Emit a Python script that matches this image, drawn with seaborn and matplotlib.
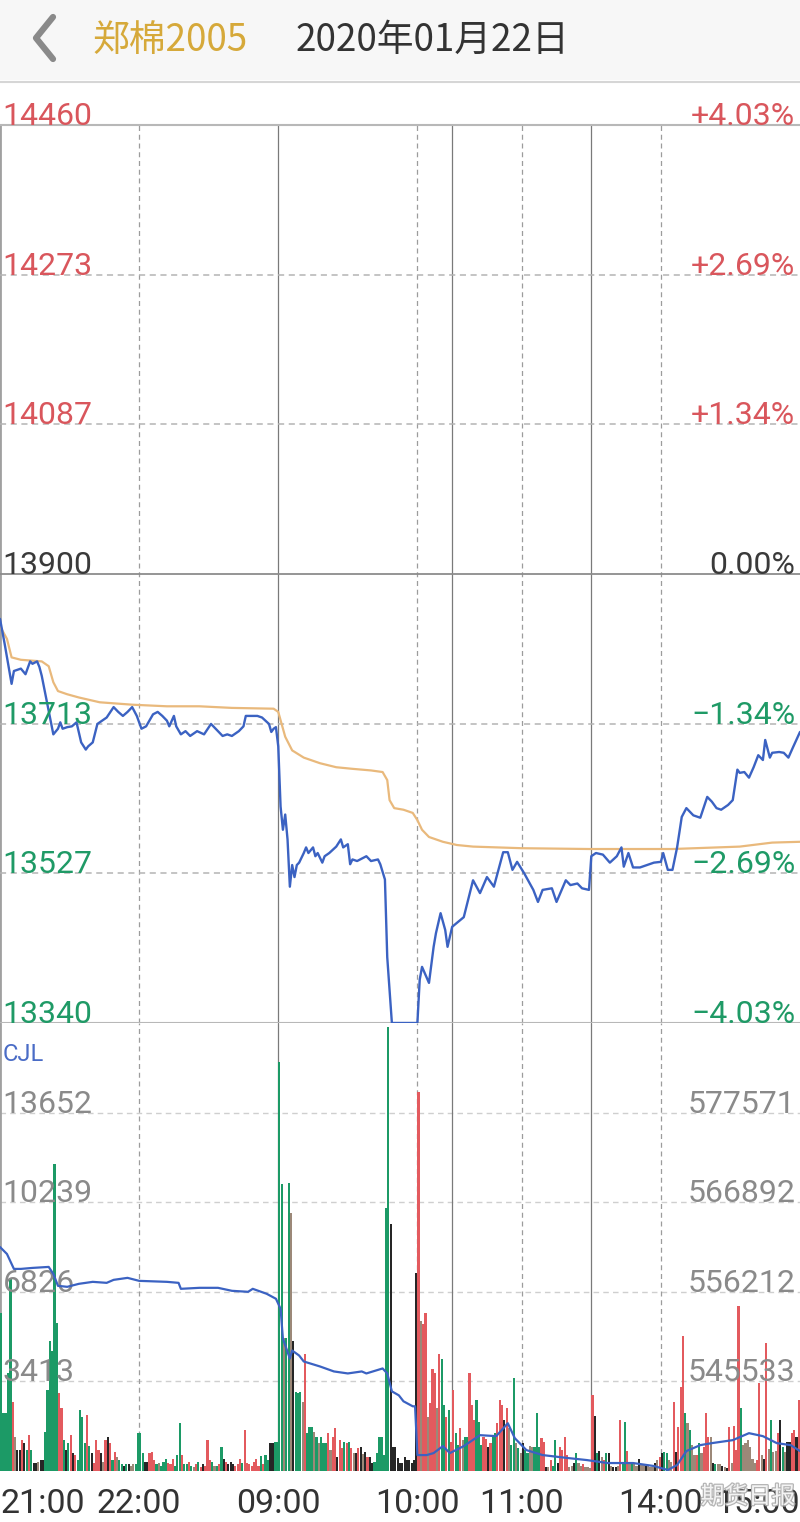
import numpy as np
import pandas as pd
import seaborn as sns
import matplotlib.pyplot as plt
from matplotlib.lines import Line2D
from matplotlib.patches import Rectangle
import matplotlib.patheffects as pe

# ---- data (minutes since 21:00, trading minutes only: 120 night + 75 + 60 + 90) ----
title_name = '郑棉2005'
title_date = '2020年01月22日'
time_ticks = [0, 60, 120, 180, 225, 285, 345]
time_labels = ['21:00', '22:00', '09:00', '10:00', '11:00', '14:00', '15:00']

price_levels = [14460, 14273, 14087, 13900, 13713, 13527, 13340]
pct_labels = ['+4.03%', '+2.69%', '+1.34%', '0.00%', '\u22121.34%', '\u22122.69%', '\u22124.03%']
vol_levels = [13652, 10239, 6826, 3413]
oi_levels = [577571, 566892, 556212, 545533]

price_min = [0, 2, 5, 6, 9, 11, 13, 14, 16, 17, 18, 20, 22, 23, 25, 26, 27, 29, 31, 33,
             35, 37, 38, 40, 42, 43, 46, 49, 51, 53, 55, 57, 59, 61, 63, 66, 68, 70, 72, 73,
             75, 76, 78, 80, 82, 85, 88, 91, 93, 96, 98, 100, 103, 105, 106, 108, 111, 113, 116, 117,
             118, 119,
             120, 121, 122, 123, 124, 125, 126, 127, 128, 129, 131, 132, 133, 135, 136, 137, 139, 140, 142, 145,
             147, 148, 150, 151, 152, 154, 158, 160, 163, 164, 166, 167, 169, 180, 181, 182, 185, 187, 188, 190,
             192, 193, 195, 200, 204, 207, 210, 213, 217, 219, 221, 223, 226, 230, 232, 234, 238, 240, 244, 246,
             249, 251, 254, 255, 257, 260, 263, 266, 268, 269, 271, 273, 276, 279, 282, 285, 286, 288, 290, 292,
             294, 296, 299, 302, 305, 307, 309, 311, 314, 316, 318, 319, 321, 323, 325, 327, 329, 330, 332, 333,
             336, 338, 340, 342, 345]
price_val = [13844, 13813, 13763, 13779, 13782, 13775, 13791, 13788, 13791, 13784, 13773, 13744, 13715, 13700, 13707, 13715, 13707, 13709, 13710, 13715,
             13690, 13681, 13685, 13690, 13713, 13715, 13721, 13734, 13728, 13723, 13728, 13734, 13723, 13707, 13710, 13725, 13728, 13723, 13717, 13710,
             13723, 13710, 13700, 13704, 13698, 13704, 13700, 13713, 13707, 13698, 13700, 13698, 13704, 13710, 13723, 13723, 13723, 13721, 13713, 13703,
             13707, 13709,
             13685, 13610, 13581, 13600, 13569, 13510, 13537, 13522, 13537, 13540, 13552, 13559, 13552, 13559, 13548, 13552, 13540, 13548, 13552, 13560,
             13569, 13559, 13563, 13538, 13544, 13542, 13548, 13542, 13544, 13538, 13519, 13422, 13340, 13340, 13394, 13410, 13390, 13435, 13452, 13477,
             13456, 13435, 13460, 13472, 13518, 13502, 13522, 13510, 13553, 13553, 13531, 13541, 13527, 13506, 13491, 13506, 13508, 13491, 13518, 13512,
             13514, 13508, 13506, 13548, 13552, 13550, 13540, 13548, 13559, 13535, 13552, 13534, 13534, 13537, 13540, 13541, 13552, 13531, 13531, 13559,
             13597, 13608, 13599, 13596, 13622, 13616, 13608, 13606, 13612, 13618, 13656, 13652, 13653, 13646, 13659, 13674, 13668, 13693, 13671, 13677,
             13678, 13677, 13671, 13684, 13703]

avg_min = [0, 3, 5, 9, 18, 21, 23, 25, 29, 34, 43, 57, 72, 86, 100, 118, 120, 123, 126, 131,
           138, 145, 152, 160, 165, 167, 168, 170, 174, 178, 180, 182, 185, 191, 197, 204, 225, 254, 290, 319,
           333, 345]
avg_val = [13835, 13819, 13796, 13793, 13791, 13785, 13765, 13754, 13750, 13746, 13740, 13737, 13735, 13735, 13733, 13732, 13728, 13697, 13680, 13671,
           13664, 13659, 13657, 13655, 13653, 13643, 13618, 13608, 13606, 13602, 13593, 13581, 13572, 13566, 13562, 13560, 13558, 13557, 13557, 13560,
           13565, 13566]

oi_min = [0, 3, 6, 9, 14, 21, 23, 25, 29, 34, 40, 46, 49, 55, 60, 72, 77, 78, 86, 94, 100, 107, 109, 115, 119,
          121, 122, 125, 126, 129, 131, 138, 144, 150, 156, 158, 165, 167, 169, 172, 174, 178, 179,
          180, 184, 187, 191, 194, 200, 207, 214, 219, 222, 227, 234, 245, 253,
          262, 273, 282, 288, 292, 296, 302, 307, 316, 323, 329, 335, 341, 345]
oi_val = [561552, 560721, 558942, 558942, 559060, 559179, 558348, 556924, 556806, 557162, 557399, 557280, 557636, 557874, 557518, 557399, 557280, 556568, 556687, 556687, 556331, 556212, 556568, 555975, 555382,
          554195, 550635, 548262, 549211, 548618, 547906, 547313, 546720, 546482, 546720, 546482, 547076, 546482, 544346, 543872, 543160, 542566, 542566,
          536752, 536752, 536989, 537820, 536989, 537820, 539125, 539007, 540549, 538769, 537345, 536752, 536396, 536159,
          535803, 535803, 535447, 534972, 535566, 537227, 537939, 538176, 538532, 539363, 539007, 538176, 537939, 537227]

# volume per minute, colour code: g down, r up, k flat, n mixed
vol_night = [6030, 2200, 2200, 3750, 7360, 2620, 1290, 800, 800, 1180,
             1060, 800, 1365, 800, 300, 300, 340, 420, 420, 1480,
             3070, 4970, 4590, 11680, 5650, 2960, 2390, 1180, 800, 1060,
             1365, 680, 600, 420, 2310, 2050, 1060, 2120, 950, 680,
             300, 1180, 800, 680, 350, 1180, 1290, 1060, 400, 720,
             530, 420, 250, 200, 250, 250, 200, 250, 250, 1440,
             1440, 700, 340, 340, 680, 720, 420, 250, 300, 200,
             340, 450, 300, 250, 450, 200, 600, 1820, 600, 250,
             250, 360, 200, 150, 250, 340, 150, 250, 200, 1180,
             400, 340, 200, 200, 250, 910, 450, 340, 250, 340,
             250, 200, 250, 450, 300, 1550, 300, 250, 200, 340,
             450, 200, 560, 250, 600, 400, 1060, 1060, 1100, 1100]
col_night = ('gggggrnkkr' 'kgrgkknkkg' 'gggggrrgkg' 'rkrggggrgk' 'rrrknrkrgr' 'nggkgknngg'
             'ggkkrrrgng' 'ggrrrgggrg' 'grgnrgrkrr' 'rgngrgkrkk' 'krrrgrrrrr' 'rrgrggkkgg')
vol_am1 = [15590, 10920, 5080, 5080, 10960, 9820, 4970, 3000, 2960, 3000,
           2620, 4470, 1440, 1670, 1670, 1480, 1290, 1060, 1290, 1060,
           1060, 1440, 800, 1290, 1630, 530, 1180, 870, 1100, 1060,
           1100, 870, 680, 680, 870, 910, 640, 720, 530, 530,
           300, 360, 680, 1290, 1290, 600, 10010, 16900, 9400, 920,
           920, 490, 300, 300, 530, 420, 420, 300, 400, 7550,
           14450, 5730, 5610, 6030, 2050, 2580, 3900, 3720, 2390, 4470,
           4280, 2500, 2050, 2330, 1100]
col_am1 = 'ggnggnkggg' 'nrgggngngg' 'grnrrkrrgr' 'grnkrknkrk' 'kgggggggkk' 'kkkkkkkkkk' 'rnrrnrrrnr' 'ggrgr'
vol_am2 = [3070, 1440, 1000, 1630, 1180, 1290, 1290, 3720, 2500, 1930,
           2700, 1880, 1000, 1290, 1230, 910, 1060, 1290, 1440, 1820,
           2700, 2500, 1930, 2390, 1630, 1000, 3530, 1060, 870, 680,
           1060, 800, 680, 950, 910, 910, 2200, 910, 1250, 1100,
           150, 150, 420, 200, 1180, 300, 910, 800, 1290, 600,
           150, 200, 300, 680, 300, 200, 250, 150, 150, 100]
col_am2 = 'rggrnggrrr' 'gggrrkrggr' 'rrkrnggngn' 'kggnngggrr' 'knrggkrrrr' 'nnkgnnrnnn'
vol_pm = [2880, 2090, 680, 760, 530, 400, 680, 680, 200, 150,
          150, 200, 1930, 300, 1860, 750, 250, 300, 250, 200,
          450, 250, 250, 200, 200, 150, 150, 300, 420, 530,
          680, 720, 680, 420, 340, 2620, 720, 1670, 3190, 5160,
          2200, 1820, 1550, 1000, 600, 600, 1060, 680, 910, 2200,
          1290, 1290, 300, 250, 250, 250, 200, 150, 100, 1670,
          300, 1700, 800, 6300, 2390, 1000, 1060, 1180, 900, 450,
          300, 400, 3370, 600, 450, 4890, 830, 1930, 720, 760,
          1440, 1930, 910, 720, 1100, 1100, 1440, 1550, 1290, 2700]
col_pm = ('rkgknrgknk' 'knrggrngnn' 'knnknnnknr' 'kggnnrkrrr' 'gngnnrgnrr'
          'rnkgnnknkr' 'nrrrgnnnnn' 'nrrnkrngnn' 'rkgnkkrrkr')

# ---- style ----
sns.set_theme(style="white")
plt.rcParams['font.family'] = ['Roboto', 'Noto Sans CJK SC', 'DejaVu Sans']

BLUE = '#3b62c2'
AVG = '#e9b97c'
RED_T = '#d9565c'
GREEN_T = '#1f9a66'
bar_pal = {'g': '#1c9a66', 'r': '#e35a5e', 'k': '#262626', 'n': '#9c8878'}

W, H = 800, 1522
fig = plt.figure(figsize=(8, 15.22), dpi=100)
fig.patch.set_facecolor('white')

# header
fig.add_artist(Rectangle((0, 1 - 80 / H), 1, 80 / H, transform=fig.transFigure,
                         facecolor='#f7f7f7', edgecolor='none'))
fig.add_artist(Line2D([0, 1], [1 - 82 / H] * 2, transform=fig.transFigure, color='#d6d6d6', lw=1.5))
fig.add_artist(Line2D([53 / W, 36 / W, 53 / W], [1 - 17 / H, 1 - 38 / H, 1 - 59 / H],
                      transform=fig.transFigure, color='#8a8a8a', lw=4.5,
                      solid_capstyle='round', solid_joinstyle='round'))
fig.text(92 / W, 1 - 40 / H, title_name, color='#d6a93a', fontsize=26.5, va='center', ha='left',
         family=['Noto Sans CJK SC', 'DejaVu Sans'])
fig.text(296 / W, 1 - 40 / H, title_date, color='#333333', fontsize=26.5, va='center', ha='left',
         family=['Noto Sans CJK SC', 'DejaVu Sans'])

ax_p = fig.add_axes([0, 1 - 1023 / H, 1, (1023 - 125) / H])
ax_v = fig.add_axes([0, 1 - 1471 / H, 1, (1471 - 1023) / H])
for ax in (ax_p, ax_v):
    for s in ax.spines.values():
        s.set_visible(False)
    ax.set_xlim(0, 345)

# vertical session / hour lines
vlines = [(60, '--'), (120, '-'), (180, '--'), (195, '-'), (225, '--'), (255, '-'), (285, '--')]
for ax in (ax_p, ax_v):
    ax.axvline(0, color='#a0a0a0', lw=2, zorder=0.5)
    for xv, ls in vlines:
        if ls == '-':
            ax.axvline(xv, color='#7a7a7a', lw=0.9, zorder=0.5)
        else:
            ax.axvline(xv, color='#9c9c9c', lw=0.9, ls=(0, (4, 3)), zorder=0.5)

# ---- price panel ----
ax_p.set_ylim(13340, 14460)
for lvl in price_levels:
    if lvl == 13900:
        ax_p.axhline(lvl, color='#8c8c8c', lw=1.3, zorder=1)
    elif lvl in (14460, 13340):
        ax_p.axhline(lvl, color='#b8b8b8', lw=1.5, zorder=1, clip_on=False)
    else:
        ax_p.axhline(lvl, color='#b4b4b4', lw=1.1, ls=(0, (4, 3)), zorder=1)

sns.lineplot(x=avg_min, y=avg_val, ax=ax_p, color=AVG, lw=1.6, zorder=3)
sns.lineplot(x=price_min, y=price_val, ax=ax_p, color=BLUE, lw=1.7, zorder=4)
for ln in ax_p.lines[-2:]:
    ln.set_clip_on(False)

ytr = ax_p.get_yaxis_transform()
for lvl, pct in zip(price_levels, pct_labels):
    c = RED_T if lvl > 13900 else ('#3a3a3a' if lvl == 13900 else GREEN_T)
    ax_p.text(0.003, lvl, str(lvl), transform=ytr, color=c, fontsize=23, ha='left', va='baseline', zorder=5)
    ax_p.text(0.994, lvl, pct, transform=ytr, color=c, fontsize=23, ha='right', va='baseline', zorder=5)
ax_p.set_xticks([])
ax_p.set_yticks([])
ax_p.set_xlabel('')
ax_p.set_ylabel('')

# ---- volume panel ----
vol = vol_night + vol_am1 + vol_am2 + vol_pm
cols = col_night + col_am1 + col_am2 + col_pm
df_v = pd.DataFrame({'t': np.arange(len(vol)) + 0.5, 'vol': vol, 'c': list(cols)})
for lvl in vol_levels:
    ax_v.axhline(lvl, color='#cfcfcf', lw=1.0, ls=(0, (4, 3)), zorder=0)
sns.barplot(data=df_v, x='t', y='vol', hue='c', palette=bar_pal, native_scale=True, dodge=False,
            width=0.92, errorbar=None, legend=False, saturation=1, linewidth=0, ax=ax_v)
ax_v.set_xlim(0, 345)
ax_v.set_ylim(0, 17065)

ax_oi = ax_v.twinx()
for s in ax_oi.spines.values():
    s.set_visible(False)
sns.lineplot(x=oi_min, y=oi_val, ax=ax_oi, color=BLUE, lw=1.6)
ax_oi.set_ylim(534854, 588251)
ax_oi.set_xlim(0, 345)
ax_oi.set_yticks([])
ax_oi.set_ylabel('')

ytr_v = ax_v.get_yaxis_transform()
ytr_oi = ax_oi.get_yaxis_transform()
for lvl in vol_levels:
    ax_v.text(0.003, lvl, str(lvl), transform=ytr_v, color='#8a8a8a', fontsize=23, ha='left', va='baseline', zorder=6)
for lvl in oi_levels:
    ax_oi.text(0.994, lvl, str(lvl), transform=ytr_oi, color='#8a8a8a', fontsize=23, ha='right', va='baseline', zorder=6)
ax_v.text(0.003, 0.93, 'CJL', transform=ax_v.transAxes, color='#4a6cc6', fontsize=17, ha='left', va='center')

ax_v.set_yticks([])
ax_v.set_ylabel('')
ax_v.set_xlabel('')
ax_v.set_xticks(time_ticks)
ax_v.set_xticklabels(time_labels, fontsize=24.5, color='#333333')
ax_v.tick_params(axis='x', length=0, pad=12)
tl = ax_v.get_xticklabels()
tl[0].set_ha('left')
tl[-1].set_ha('right')

# watermark (semi-transparent, over the last time labels as in the source)
wm = fig.text(748 / W, 1 - 1497 / H, '期货日报', fontsize=17, color='white', ha='center', va='center',
              family=['Noto Sans CJK SC', 'DejaVu Sans'], alpha=0.85)
wm.set_path_effects([pe.withStroke(linewidth=1.8, foreground='#a8a8a8')])

fig.savefig('out.png', dpi=100)
